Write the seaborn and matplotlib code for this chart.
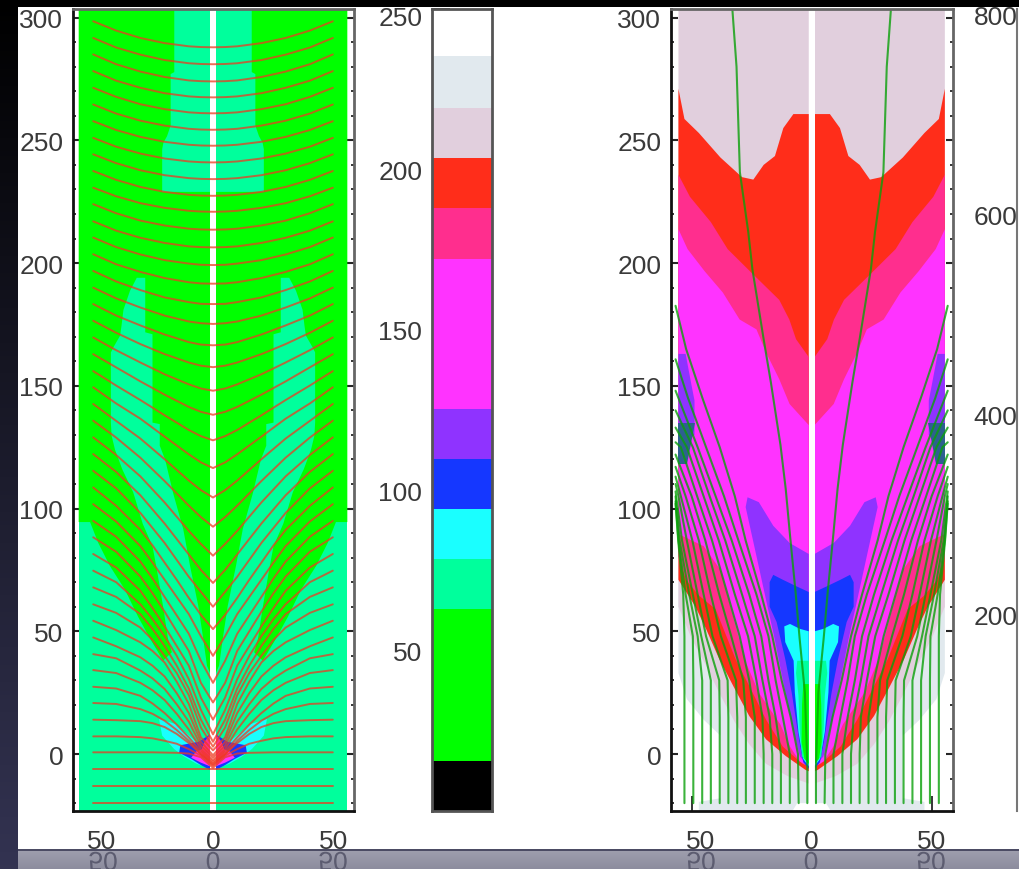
import numpy as np
import pandas as pd
import matplotlib.pyplot as plt
import seaborn as sns
from matplotlib.patheffects import AbstractPathEffect
from matplotlib.ticker import FixedLocator
from matplotlib.transforms import Affine2D, ScaledTranslation

W, H = 1019, 870

# colour table of the bar
band_edges = [0, 15.6, 63, 78.6, 94.2, 109.8, 125.4, 172.2, 187.9, 203.4, 219, 235.2, 250]
band_colors = ['#000000', '#00ff00', '#00ff9c', '#1affff', '#1537ff', '#8f33ff',
               '#ff33ff', '#ff2e8e', '#ff2d1a', '#e1cfdd', '#e1e9ee', '#ffffff']
C_GREEN, C_SPRING, C_CYAN, C_BLUE, C_PURPLE = band_colors[1:6]
C_MAGENTA, C_PINK, C_RED, C_LILAC, C_GREY = band_colors[6:11]

# left panel, contour outlines for x > 0
p1_green_x = [1.2, 55.5, 55.5, 50.8, 47.4, 42.6, 36.4, 31, 26, 20.6, 17, 18.6, 20.6, 23, 25, 29, 33, 37.5, 40.5, 41.9,
              42.2, 42.2, 41.2, 38.4, 37.8, 37, 34.3, 31.5, 28, 28, 25, 25, 22, 22, 19.8, 16.4, 12.3, 9.5, 6.1, 4, 2.5, 1.2]
p1_green_y = [303.5, 303.5, 94.5, 94.5, 86, 76.6, 67, 56, 47, 38, 41.5, 47, 60, 74, 84.7, 93.7, 106.7, 116, 124, 129.7,
              135, 163.6, 165.6, 170.4, 174.5, 181, 188.7, 194, 194, 171.8, 171, 135, 134.4, 125.6, 120, 106, 91.6, 76.7, 60.4, 46.8, 36, 33]
p1_top_x = [1.2, 16, 16, 17.5, 17.5, 19, 20.5, 21, 21, 1.2]
p1_top_y = [303.5, 303.5, 277.8, 277, 256, 251.7, 249, 246.4, 229, 229]
p1_cyan_x = [1.2, 2.6, 6.5, 15.4, 22.3, 21, 16, 12, 6.7, 1.2]
p1_cyan_y = [3, 1.3, 4.7, 12.2, 14.3, 7.5, 2, -1, -4, -6]
p1_blue_x = [1.2, 6, 13.5, 14, 9, 5, 1.2]
p1_blue_y = [8, 5, 3.6, 0.5, -2, -4.5, -6.5]
p1_magenta_x = [1.2, 7, 9, 5, 1.2]
p1_magenta_y = [3, 1, -1.5, -3.5, -5]
p1_pink_x = [1.2, 3.5, 5, 3, 1.2]
p1_pink_y = [8, 5, 1, -2, -3]

# red field lines: y at each |x|, one entry per line
red_x = [0, 5, 10, 20, 30, 40, 49.5]
red_y_00 = [-19.8, -13, -6.2, -5.6, -4.8, -4.4, -3.8, -3.2, -2.5, -1.5, -0.5, 1.5, 3, 5, 8, 14, 21, 29, 40, 50.9, 60, 69.7, 80.8, 92.6,
            104.5, 116.5, 127.8, 138.2, 148, 157.6, 166.5, 175.2, 183.3, 191.6, 199.2, 206.4, 213.6, 220.9, 227.4, 234.2, 241, 247.8, 254.3, 261, 267.5, 274, 281, 287.9]
red_y_05 = [-19.8, -13, -6.2, -1.3, -0.6, 0, 0, 1, 2, 3.4, 5, 6.8, 10.8, 14, 18, 23, 29, 38, 48, 56.7, 66.1, 75, 85.6, 96.5,
            107.5, 118.8, 129.5, 139.4, 148.9, 158.2, 166.8, 175.5, 183.4, 191.7, 199.3, 206.5, 213.7, 221, 227.5, 234.3, 241.1, 247.9, 254.4, 261.1, 267.6, 274.1, 281.1, 288]
red_y_10 = [-19.8, -13, -6.2, 0.2, 2, 4.5, 5.4, 6.8, 10, 13.2, 16.7, 20.4, 24, 26.7, 30.5, 36, 42, 49, 57, 63.6, 72.2, 81.3, 90.9, 101.2,
            111.4, 122.1, 132, 141.4, 150.6, 159.5, 167.8, 176.2, 184.1, 192.2, 199.8, 206.8, 214, 221.3, 227.8, 234.6, 241.4, 248.2, 254.7, 261.4, 267.9, 274.4, 281.4, 288.3]
red_y_20 = [-19.8, -13, -6.2, 0.6, 5.4, 11, 13.6, 16.7, 22, 26.5, 31.6, 37.3, 40, 44, 48, 52, 58, 64, 71, 78, 86, 93.9, 102.5, 111.2,
            120.1, 129.3, 138, 146.4, 154.7, 162.9, 170.9, 178.6, 186, 193.9, 201.2, 208.2, 215.3, 222.5, 229, 235.8, 242.6, 249.4, 256, 262.7, 269.2, 275.8, 282.7, 289.6]
red_y_30 = [-19.8, -13, -6.2, 0.7, 6.9, 13.4, 18.3, 23.7, 29, 34, 39.4, 45.5, 51.5, 57, 61, 66.5, 72.3, 78.4, 84.7, 91.3, 98.2, 105.4, 113.1, 120.7,
            128.5, 136.6, 144.2, 151.8, 159.5, 167, 174.6, 181.9, 189, 196.4, 203.5, 210.3, 217.3, 224.4, 231, 237.8, 244.6, 251.4, 258, 264.7, 271.4, 278, 284.9, 291.7]
red_y_40 = [-19.8, -13, -6.2, 0.7, 7.2, 13.8, 20.4, 26.7, 33, 39, 43.9, 50.5, 57.5, 64, 70, 76, 82.4, 88.5, 94.7, 101.1, 108.2, 114.9, 121.8, 128.9,
            135.7, 142.8, 150.1, 157.5, 164.5, 171.6, 178.6, 185.6, 192.5, 199.5, 206.5, 213.2, 220.3, 227.2, 233.9, 240.7, 247.4, 254.2, 260.9, 267.7, 274.3, 281, 287.8, 294.7]
red_y_50 = [-19.8, -13, -6.2, 0.7, 7.2, 14, 20.8, 27.4, 34.2, 40.7, 47.5, 54.3, 61, 67.9, 74.7, 81.5, 88.3, 95, 101.8, 108.6, 115.4, 122.2, 129, 135.8,
            142.6, 149.4, 156, 162.9, 169.7, 176.5, 183.3, 190, 196.8, 203.6, 210.4, 217, 224, 230.7, 237.5, 244.3, 251, 257.8, 264.6, 271.4, 278.2, 285, 291.7, 298.5]
# extra points for the curved fan, lines 3 to 19 only
fan_first = 3
fan_x = [15, 25]
fan_y_15 = [0.5, 4.2, 8.2, 9.8, 12, 16.4, 20.3, 24.8, 29.5, 33, 36, 40, 44, 50, 56.5, 64, 71]
fan_y_25 = [0.7, 6.4, 12.6, 16.4, 20.6, 26, 30.8, 36, 42, 46.5, 51, 55, 59.5, 65.5, 71.5, 78, 85]

# right panel, contour outlines for x > 0, painted from high level to low
p2_grey_x = [1.2, 55.5, 55.5, 52, 45, 38, 38, 47, 47, 8, 6, 1.2]
p2_grey_y = [100, 100, 33, 22.4, 14, 7.5, -18, -19.5, -23.2, -23.2, -20, -20]
p2_lilac_x = [1.2, 55.5, 55.5, 50, 44, 38, 32, 26, 19, 10, 1.2]
p2_lilac_y = [303.5, 303.5, 60, 47, 36, 24, 13, 4, -4, -9, -12]
p2_red_x = [1.2, 7.6, 11.8, 15.3, 20, 24.3, 29, 38, 47, 53, 55.5, 55.5, 48.4, 44, 38.5, 32, 26, 19, 10.8, 2.5, 1.2]
p2_red_y = [260.7, 260.7, 255, 243.6, 240, 234, 235, 243, 253, 258.7, 271, 71, 60, 51, 38.7, 26.5, 15.5, 6, -0.8, -6.5, -7]
p2_pink_x = [1.2, 6.5, 9.3, 13.5, 25, 35, 42, 50.7, 55.5, 55.5, 52.4, 47, 40, 31.7, 24.6, 19, 12, 3.8, 1.2]
p2_pink_y = [161.7, 169, 177, 185, 196, 205.7, 216.7, 227, 236, 80.6, 71, 64.6, 59, 38.7, 25, 14, 3, -4, -5]
p2_magenta_x = [1.2, 9.2, 13.5, 19, 23, 30, 37, 44.6, 51.7, 55.5, 55.5, 45, 38, 28, 22, 13, 9, 5, 1.2]
p2_magenta_y = [134, 142.6, 152.7, 163.6, 173, 177, 188, 196.7, 205.7, 213.8, 89.6, 84.7, 75, 38.7, 25, 12, 3, -3, -5]
p2_purple_x = [1.2, 9.2, 16, 22, 26.7, 27.5, 23.3, 15.4, 8.7, 4.9, 1.2]
p2_purple_y = [81.5, 86, 93, 102.6, 104.6, 100.6, 82, 46.8, 14, -1, -5]
p2_purple_edge_x = [55.5, 52.5, 50, 48.8, 48.8, 55.5]
p2_purple_edge_y = [163, 163, 150, 144, 130, 125]
p2_teal_x = [48.5, 55.5, 55.5, 52]
p2_teal_y = [135, 135, 118, 118]
p2_blue_x = [1.2, 6.5, 12, 16, 17.5, 17.5, 14.6, 11, 8.3, 5.1, 3.5, 1.2]
p2_blue_y = [66, 68.4, 71, 73, 70, 60, 53.8, 38.7, 25, 5, -3.3, -6]
p2_cyan_x = [1.2, 4.9, 9, 11.4, 11, 7.5, 7, 5.5, 3.5, 1.2]
p2_cyan_y = [50, 51, 53, 52, 45.6, 38, 25, 9, -2, -5]
p2_spring_x = [1.2, 6, 6.5, 5.5, 5, 4, 1.2]
p2_spring_y = [38, 38, 33, 24, 10, -1, -4]
p2_green_x = [1.2, 3.5, 4, 4.2, 3, 1.2]
p2_green_y = [28.5, 28.5, 20, 5, -2, -4]

# green field lines, |x| at each height, last point sits on the panel edge
green_levels = [-20, 0, 15, 30, 48, 65, 87, 105, 125, 145, 165]
green_edge = 56.7
green_inner_x = [1.8, 1.8, 2.8, 5, 6.7, 9, 10.8, 13, 17, 20, 24.7, 26.4, 29.9, 31.3, 33]
green_inner_y = [-20, -5, 25, 47, 66, 89, 108, 126, 151.5, 169, 197.6, 212.6, 237, 280, 303]
green_l02 = [5.4, 5.7, 8.7, 12.5, 16.4, 21, 27.5, 32, 38.3, 45.5, 52.3]
green_l03 = [9.1, 9.1, 12, 15, 18, 23, 30.5, 36.5, 44, 51.5]
green_l04 = [12.8, 12.8, 15, 18, 21, 26, 33.3, 40, 47.5]
green_l05 = [16.4, 16.4, 17.5, 20.5, 23.7, 29, 36, 42.5, 49.5]
green_l06 = [20, 20, 20.5, 23, 26.5, 32, 38.7, 45, 52]
green_l07 = [23.7, 23.7, 23.7, 26, 30, 35, 41.5, 47.7, 54.5]
green_l08 = [27.4, 27.4, 27.4, 28.5, 33.5, 38.5, 44.3, 50]
green_l09 = [31, 31, 31, 31.5, 37.8, 42, 47, 52.5]
green_l10 = [34.7, 34.7, 34.7, 35, 41.3, 45, 49.7, 54.5]
green_l11 = [38.3, 38.3, 38.3, 38.5, 44, 47.5, 52, 55.5]
green_l12 = [42, 42, 42, 42, 46, 49.5, 54]
green_l13 = [45.6, 45.6, 45.6, 45.6, 47.5, 51, 55]
green_l14 = [49.3, 49.3, 49.3, 49.3, 49.5, 52.5, 55.5]
green_l15 = [53, 53, 53, 53, 53, 53.5, 55.6]
green_end_y = [182.6, 160.8, 148, 140, 133, 127, 122, 117, 113, 110, 107, 105, 103, 102]

y_ticks = [0, 50, 100, 150, 200, 250, 300]
bar_ticks = [50, 100, 150, 200, 250]
right_ticks = [200, 400, 600, 800]


class Mirror(AbstractPathEffect):
    """Flips drawn text about a horizontal pixel line (the shiny floor)."""
    def __init__(self, y0):
        super().__init__()
        self.y0 = y0

    def draw_path(self, renderer, gc, tpath, affine, rgbFace=None):
        flip = Affine2D().scale(1, -1).translate(0, 2 * self.y0)
        renderer.draw_path(gc, tpath, affine + flip, rgbFace)


def box(x0, x1, y0=10, y1=812):
    return [x0 / W, 1 - y1 / H, (x1 - x0) / W, (y1 - y0) / H]


def fill_both(ax, xs, ys, color):
    xs = np.array(xs)
    ax.fill(xs, ys, color=color, lw=0)
    ax.fill(-xs, ys, color=color, lw=0)


def draw_lines(ax, frames, color, lw, alpha):
    df = pd.concat(frames, ignore_index=True)
    sns.lineplot(data=df, x='x', y='y', units='line', estimator=None, sort=False,
                 color=color, lw=lw, alpha=alpha, legend=False, ax=ax)
    ax.set_xlabel('')
    ax.set_ylabel('')


def nudge(label, dx_px, dy_px):
    label.set_transform(label.get_transform() + ScaledTranslation(dx_px / 100, dy_px / 100, fig.dpi_scale_trans))


def style_panel(ax, xlim):
    ax.set_xlim(*xlim)
    ax.set_ylim(-23.2, 303.5)
    ax.set_facecolor('white')
    ax.set_yticks(y_ticks)
    ax.yaxis.set_minor_locator(FixedLocator(np.arange(-20, 301, 10)))
    ax.tick_params(axis='y', which='major', direction='in', left=True, right=True, length=5, width=1.5, pad=7,
                   labelsize=FS, labelcolor=TXT)
    ax.tick_params(axis='y', which='minor', direction='in', left=True, right=True, length=2.5, width=1.3)
    ax.set_xticks([-50, 0, 50])
    ax.set_xticklabels(['50', '0', '50'])
    ax.tick_params(axis='x', which='major', direction='in', bottom=True, top=True, length=10.8, width=1.3, pad=13,
                   labelsize=FS, labelcolor=TXT)
    for name, col in [('left', '#111111'), ('bottom', '#111111'), ('top', '#666666'), ('right', '#666666')]:
        ax.spines[name].set_color(col)
        ax.spines[name].set_linewidth(2)


sns.set_style('white')
plt.rcParams['font.family'] = ['Liberation Sans', 'DejaVu Sans']
FS = 19
TXT = '#3a3a3a'

fig = plt.figure(figsize=(W / 100, H / 100), dpi=100, facecolor='white')

# slide background around the plots
bg = fig.add_axes([0, 0, 1, 1], zorder=-1)
bg.axis('off')
bg.imshow(np.linspace([0, 0, 0], [0.2, 0.2, 0.32], 200).reshape(200, 1, 3), extent=[0, 18, H, 0], aspect='auto')
bg.imshow(np.linspace([0.62, 0.62, 0.68], [0.55, 0.55, 0.62], 20).reshape(20, 1, 3), extent=[18, W, H, 851], aspect='auto')
bg.set_xlim(0, W)
bg.set_ylim(H, 0)
bg.axhspan(0, 8, color='black', lw=0)
bg.axhspan(850, 851.5, xmin=18 / W, color='#4c4c64', lw=0)

# left panel
ax1 = fig.add_axes(box(73, 354))
ax1.fill([-55.2, 55.2, 55.2, -55.2], [-23.2, -23.2, 303.5, 303.5], color=C_SPRING, lw=0)
fill_both(ax1, p1_green_x, p1_green_y, C_GREEN)
fill_both(ax1, p1_top_x, p1_top_y, C_SPRING)
fill_both(ax1, p1_cyan_x, p1_cyan_y, C_CYAN)
fill_both(ax1, p1_blue_x, p1_blue_y, C_BLUE)
fill_both(ax1, p1_magenta_x, p1_magenta_y, C_MAGENTA)
fill_both(ax1, p1_pink_x, p1_pink_y, C_PINK)
ax1.axvspan(-1.2, 1.2, color='white', lw=0)

red_rows = np.array([red_y_00, red_y_05, red_y_10, red_y_20, red_y_30, red_y_40, red_y_50]).T
frames = []
for i, row in enumerate(red_rows):
    xs = np.array(red_x, dtype=float)
    if fan_first <= i < fan_first + len(fan_y_15):
        k = i - fan_first
        xs = np.r_[xs, fan_x]
        row = np.r_[row, fan_y_15[k], fan_y_25[k]]
        order = np.argsort(xs)
        xs, row = xs[order], row[order]
    frames.append(pd.DataFrame({'x': np.r_[-xs[:0:-1], xs], 'y': np.r_[row[:0:-1], row], 'line': i}))
draw_lines(ax1, frames, '#ee3a20', 1.4, 0.75)
style_panel(ax1, (-57.85, 58.26))
ax1.set_xticks([-50, -40, -20, 0, 20, 40, 50])
ax1.set_xticklabels(['50', '', '', '0', '', '', '50'])
ax1.xaxis.set_minor_locator(FixedLocator(np.arange(-55, 56, 5)))
ax1.tick_params(axis='x', which='minor', direction='in', bottom=True, top=True, length=5.8, width=1.3)
nudge(ax1.get_xticklabels()[0], 10, 0)

# colour bar
ax2 = fig.add_axes(box(432, 492))
edges = np.array(band_edges)
ax2.bar(0, edges[1:] - edges[:-1], bottom=edges[:-1], width=1, color=band_colors, lw=0)
ax2.set_xlim(-0.5, 0.5)
ax2.set_ylim(0, 250)
ax2.set_xticks([])
ax2.set_yticks(bar_ticks)
ax2.yaxis.set_minor_locator(FixedLocator(np.arange(10, 250, 10)))
ax2.tick_params(axis='y', which='major', direction='in', left=True, length=13, width=1.3, pad=7,
                labelsize=FS, labelcolor=TXT)
ax2.tick_params(axis='y', which='minor', direction='in', left=True, right=True, length=2, width=1)
for s in ax2.spines.values():
    s.set_color('#555555')
    s.set_linewidth(2)
nudge(ax2.get_yticklabels()[-1], 0, -7)

# right panel
ax3 = fig.add_axes(box(671, 953))
fill_both(ax3, p2_grey_x, p2_grey_y, C_GREY)
fill_both(ax3, p2_lilac_x, p2_lilac_y, C_LILAC)
fill_both(ax3, p2_red_x, p2_red_y, C_RED)
fill_both(ax3, p2_pink_x, p2_pink_y, C_PINK)
fill_both(ax3, p2_magenta_x, p2_magenta_y, C_MAGENTA)
fill_both(ax3, p2_purple_x, p2_purple_y, C_PURPLE)
fill_both(ax3, p2_purple_edge_x, p2_purple_edge_y, C_PURPLE)
fill_both(ax3, p2_teal_x, p2_teal_y, '#2e6090')
fill_both(ax3, p2_blue_x, p2_blue_y, C_BLUE)
fill_both(ax3, p2_cyan_x, p2_cyan_y, C_CYAN)
fill_both(ax3, p2_spring_x, p2_spring_y, C_SPRING)
fill_both(ax3, p2_green_x, p2_green_y, C_GREEN)
ax3.axvspan(-1.2, 1.2, color='white', lw=0)

frames = []
green_outer = [green_l02, green_l03, green_l04, green_l05, green_l06, green_l07, green_l08,
               green_l09, green_l10, green_l11, green_l12, green_l13, green_l14, green_l15]
n = 0
for sign in (-1, 1):
    frames.append(pd.DataFrame({'x': sign * np.array(green_inner_x), 'y': green_inner_y, 'line': n}))
    n += 1
    for xs, y_end in zip(green_outer, green_end_y):
        frames.append(pd.DataFrame({'x': sign * np.array(xs + [green_edge]),
                                    'y': green_levels[:len(xs)] + [y_end], 'line': n}))
        n += 1
draw_lines(ax3, frames, '#0aa00a', 1.5, 0.8)
style_panel(ax3, (-58.6, 58.9))
nudge(ax3.get_xticklabels()[0], 9, 0)

# second colour bar, almost off the slide
ax4 = fig.add_axes(box(1017, 1200))
ax4.set_xlim(0, 1)
ax4.set_ylim(4, 805)
ax4.set_xticks([])
ax4.set_yticks(right_ticks)
ax4.tick_params(axis='y', direction='in', left=False, length=0, pad=-0.5, labelsize=FS, labelcolor=TXT)
for name, s in ax4.spines.items():
    s.set_visible(name == 'left')
    s.set_color('#777777')
    s.set_linewidth(1.5)

# reflection of the bottom labels on the floor
for px, s in [(103, '50'), (213, '0'), (333, '50'), (701, '50'), (811, '0'), (931, '50')]:
    fig.text(px / W, 1 - 860 / H, s, fontsize=FS, color='#5c5c70', ha='center', va='center',
             path_effects=[Mirror(H - 860)])

fig.savefig('out.png', dpi=100, facecolor='white')
plt.close(fig)
